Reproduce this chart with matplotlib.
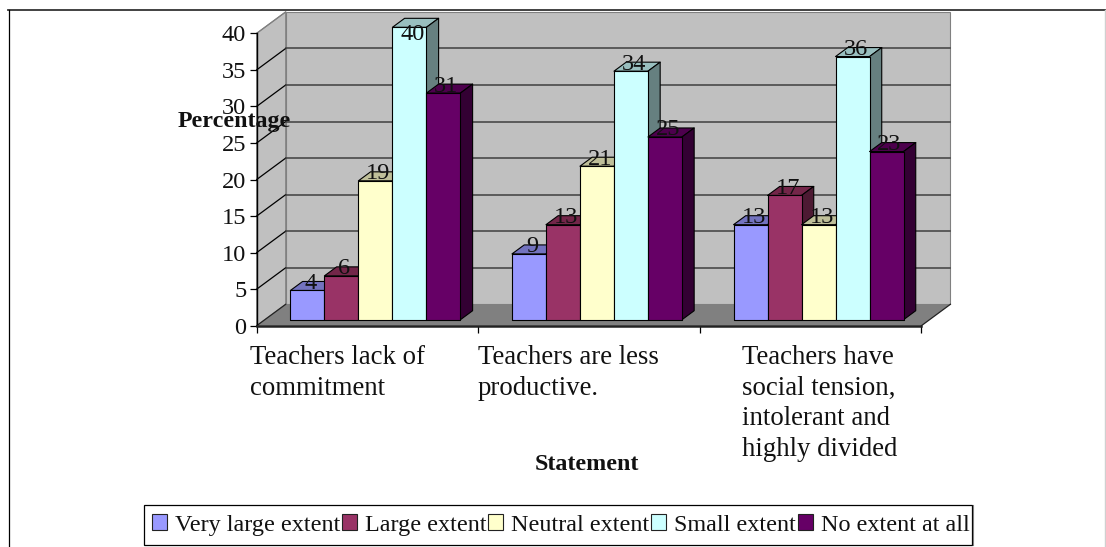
import matplotlib
matplotlib.use("Agg")
import matplotlib.pyplot as plt
from matplotlib.lines import Line2D
from matplotlib.patches import Polygon, Patch, Rectangle

# ---- data ----
categories = ["Teachers lack of\ncommitment",
              "Teachers are less\nproductive.",
              "Teachers have\nsocial tension,\nintolerant and\nhighly divided"]
series_names = ["Very large extent", "Large extent", "Neutral extent", "Small extent", "No extent at all"]
very_large = [4, 9, 13]
large = [6, 13, 17]
neutral = [19, 21, 13]
small = [40, 34, 36]
no_extent = [31, 25, 23]
y_ticks = [0, 5, 10, 15, 20, 25, 30, 35, 40]
x_title = "Statement"
y_title = "Percentage"

# ---- style ----
front_cols = ["#9999FF", "#993366", "#FFFFCC", "#CCFFFF", "#660066"]
top_cols = ["#7373BF", "#732649", "#BFBF99", "#99BFBF", "#4D004D"]
side_cols = ["#4D4D80", "#4D1A33", "#808066", "#668080", "#330033"]
W, H = 1106, 547
plt.rcParams['font.family'] = ['Liberation Serif', 'DejaVu Serif']
fig = plt.figure(figsize=(W / 100, H / 100), dpi=100)

def fx(x): return x / W
def fy(y): return 1 - y / H

L, R, T, B = 256.7, 921.4, 33.3, 325.7
ax = fig.add_axes([fx(L), fy(B), (R - L) / W, (B - T) / H])
ax.set_xlim(0, 3)
ax.set_ylim(0, 40)
ax.patch.set_visible(False)
for s in ("top", "right"):
    ax.spines[s].set_visible(False)
ax.spines["left"].set_linewidth(1.0)
ax.spines["bottom"].set_linewidth(1.8)
ax.spines["bottom"].set_color("#222222")
ax.spines["left"].set_zorder(50)
ax.spines["bottom"].set_zorder(50)
ax.set_xticks(range(4))
ax.set_xticklabels([])
ax.set_yticks(y_ticks)
ax.tick_params(axis="both", length=5, width=0.9, color="black")
ax.tick_params(axis="y", labelsize=17.6, pad=2.5, labelcolor="#111111")
ax.tick_params(axis="x", length=5)

ux = (R - L) / 3          # pixels per category
uy = (B - T) / 40         # pixels per value unit
DX, DY = 29.0 / ux, 21.4 / uy   # full depth in data units

def proj(x, y, d):
    return (x + d * DX, y + d * DY)

def poly(pts, **kw):
    ax.add_patch(Polygon(pts, closed=True, clip_on=False, **kw))

# walls and floor
poly([proj(0, 0, 0), proj(0, 40, 0), proj(0, 40, 1), proj(0, 0, 1)], fc="#C0C0C0", ec="#808080", lw=0.8, zorder=1)
poly([proj(0, 0, 1), proj(0, 40, 1), proj(3, 40, 1), proj(3, 0, 1)], fc="#C0C0C0", ec="#808080", lw=0.8, zorder=1)
poly([proj(0, 0, 0), proj(3, 0, 0), proj(3, 0, 1), proj(0, 0, 1)], fc="#808080", ec="none", zorder=2)
xs = [proj(3, 0, 0)[0], proj(3, 0, 1)[0]]
ys = [proj(3, 0, 0)[1], proj(3, 0, 1)[1]]
ax.plot(xs, ys, color="#222222", lw=0.9, clip_on=False, zorder=2.5)
xs = [proj(0, 0, 0)[0], proj(0, 0, 1)[0]]
ys = [proj(0, 0, 0)[1], proj(0, 0, 1)[1]]
ax.plot(xs, ys, color="#222222", lw=0.9, clip_on=False, zorder=2.5)

# gridlines
for t in y_ticks[1:-1]:
    a, b, c = proj(0, t, 0), proj(0, t, 1), proj(3, t, 1)
    ax.plot([a[0], b[0]], [a[1], b[1]], color="black", lw=0.9, clip_on=False, zorder=1.5)
    ax.plot([b[0], c[0]], [b[1], c[1]], color="#404040", lw=1.1, clip_on=False, zorder=1.5)
a, b = proj(0, 40, 0), proj(0, 40, 1)
ax.plot([a[0], b[0]], [a[1], b[1]], color="#808080", lw=0.9, clip_on=False, zorder=1.5)

# bars
series = [very_large, large, neutral, small, no_extent]
gap = 25.6 / ux
bw = 34.0 / ux
d0, d1 = 0.28, 0.70
z = 10
labels = []
for c in range(len(categories)):
    for s, vals in enumerate(series):
        v = vals[c]
        x0 = c + gap + s * bw
        x1 = x0 + bw
        edge = dict(ec="black", lw=0.8, joinstyle="round")
        poly([proj(x0, v, d0), proj(x1, v, d0), proj(x1, v, d1), proj(x0, v, d1)], fc=top_cols[s], zorder=z, **edge)
        poly([proj(x1, 0, d0), proj(x1, 0, d1), proj(x1, v, d1), proj(x1, v, d0)], fc=side_cols[s], zorder=z, **edge)
        poly([proj(x0, 0, d0), proj(x1, 0, d0), proj(x1, v, d0), proj(x0, v, d0)], fc=front_cols[s], zorder=z + 0.5, **edge)
        z += 1
        lx, ly = proj((x0 + x1) / 2, v, d0)
        labels.append((lx + 3 / ux, min(ly + 7 / uy, 39.8), str(v)))
for lx, ly, txt in labels:
    ax.text(lx, ly, txt, ha="center", va="center", fontsize=17.6, color="#111111", zorder=200, clip_on=False)

# category labels
label_px = [250, 478, 742.5]
for xp, txt in zip(label_px, categories):
    fig.text(fx(xp), fy(345), txt, ha="left", va="top", ma="left", fontsize=19.3, linespacing=1.29, color="#111111")

# axis titles
fig.text(fx(234), fy(121), y_title, ha="center", va="center", fontsize=17.3, fontweight="bold", color="#111111", zorder=300)
fig.text(fx(586.5), fy(464), x_title, ha="center", va="center", fontsize=17.3, fontweight="bold", color="#111111")

# legend frame and entries
fig.add_artist(Rectangle((fx(143.5), fy(544.5)), 828.5 / W, 40 / H, transform=fig.transFigure,
                         fc="white", ec="black", lw=0.9))
fig.add_artist(Line2D([fx(972.5), fx(972.5)], [fy(504.5), fy(545)], color="#808080", lw=0.8))
handles = [Patch(facecolor=f, edgecolor="#222222", linewidth=0.8) for f in front_cols]
leg = fig.legend(handles, series_names, ncol=5, loc="center left", bbox_to_anchor=(fx(152), fy(525)),
                 fontsize=17.4, frameon=False,
                 handlelength=0.62, handleheight=0.62, handletextpad=0.33, columnspacing=0.07,
                 borderpad=0, borderaxespad=0)
for t in leg.get_texts():
    t.set_color("#111111")

# page frame
fig.add_artist(Line2D([fx(8), fx(W)], [fy(10), fy(10)], color="#333333", lw=1.3))
fig.add_artist(Line2D([fx(8.5), fx(8.5)], [fy(10), fy(H)], color="black", lw=0.9))
fig.add_artist(Line2D([fx(1105), fx(1105)], [fy(10), fy(H)], color="#D0D0D0", lw=1.0))

fig.savefig("out.png", dpi=100, facecolor="white")
